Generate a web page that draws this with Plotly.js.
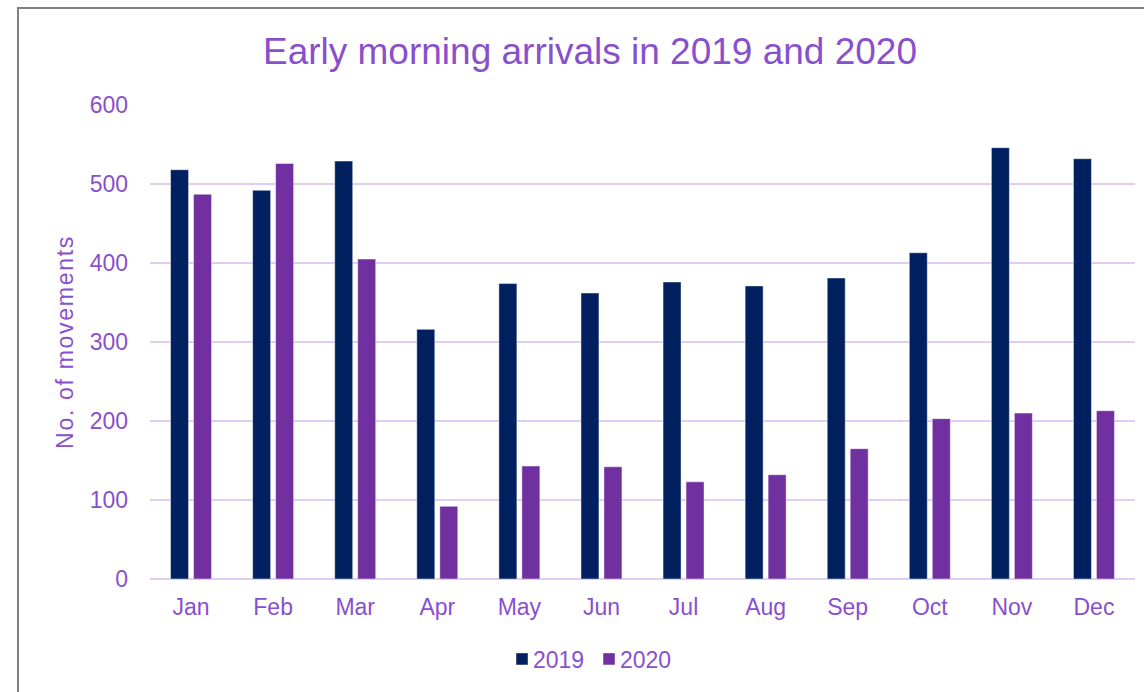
<!DOCTYPE html>
<html>
<head>
<meta charset="utf-8">
<script src="https://cdn.plot.ly/plotly-3.0.1.min.js"></script>
<style>
  html, body { margin: 0; padding: 0; background: #ffffff; }
  #wrap { position: relative; width: 1144px; height: 692px; overflow: hidden; }
  #chart { position: absolute; left: 0; top: 0; width: 1144px; height: 692px; }
  #frame { position: absolute; left: 17px; top: 7px; width: 2000px; height: 2000px;
           border-left: 2px solid #7f7f7f; border-top: 2px solid #7f7f7f; pointer-events: none; }
  #chart .ytitle { letter-spacing: 1.7px; }
  #chart .legendtext { transform: translateX(-9px); }
</style>
</head>
<body>
<div id="wrap">
  <div id="chart"></div>
  <div id="frame"></div>
</div>
<script>
const months = ["Jan", "Feb", "Mar", "Apr", "May", "Jun", "Jul", "Aug", "Sep", "Oct", "Nov", "Dec"];
const arrivals2019 = [518, 492, 529, 316, 374, 362, 376, 371, 381, 413, 546, 532];
const arrivals2020 = [487, 526, 405, 92, 143, 142, 123, 132, 165, 203, 210, 213];
const yTicks = [0, 100, 200, 300, 400, 500, 600];

const textColor = "#8950CD";
const gridColor = "#DFCDF4";
const fontFamily = "Arial, 'Liberation Sans', sans-serif";

const traces = [
  {
    type: "bar", name: "2019", x: months, y: arrivals2019,
    marker: { color: "#002060", line: { color: "rgba(255,255,255,0.45)", width: 1 } },
    hoverinfo: "x+y+name"
  },
  {
    type: "bar", name: "2020", x: months, y: arrivals2020,
    marker: { color: "#7030A0", line: { color: "rgba(255,255,255,0.45)", width: 1 } },
    hoverinfo: "x+y+name"
  }
];

const layout = {
  width: 1144, height: 692,
  margin: { l: 150, r: 9, t: 105, b: 113 },
  paper_bgcolor: "rgba(0,0,0,0)",
  plot_bgcolor: "#ffffff",
  font: { family: fontFamily, size: 23, color: textColor },
  barmode: "group",
  bargap: 0.44,
  bargroupgap: 0.217,
  title: {
    text: "Early morning arrivals in 2019 and 2020",
    font: { family: fontFamily, size: 37, color: textColor },
    xref: "container", x: 590 / 1144, xanchor: "center",
    yref: "container", y: 1 - 51 / 692, yanchor: "middle"
  },
  xaxis: {
    type: "category",
    tickfont: { family: fontFamily, size: 23, color: textColor },
    showgrid: false,
    showline: false,
    ticks: "",
    ticklabelstandoff: 12,
    fixedrange: true
  },
  yaxis: {
    range: [0, 600],
    tickvals: yTicks,
    ticktext: yTicks.map(String),
    tickfont: { family: fontFamily, size: 23, color: textColor },
    showgrid: true,
    gridcolor: gridColor,
    gridwidth: 1.5,
    zeroline: true,
    zerolinecolor: gridColor,
    zerolinewidth: 1.5,
    showline: false,
    ticks: "",
    ticklabelstandoff: 21,
    title: {
      text: "No. of movements",
      font: { family: fontFamily, size: 23, color: textColor },
      standoff: 9
    },
    fixedrange: true
  },
  showlegend: true,
  legend: {
    orientation: "h",
    xref: "container", x: 589 / 1144, xanchor: "center",
    yref: "container", y: 1 - 659 / 692, yanchor: "middle",
    font: { family: fontFamily, size: 23, color: textColor },
    itemwidth: 30,
    entrywidth: 42,
    entrywidthmode: "pixels",
    bgcolor: "rgba(0,0,0,0)"
  }
};

Plotly.newPlot("chart", traces, layout, { displayModeBar: false });
</script>
</body>
</html>
